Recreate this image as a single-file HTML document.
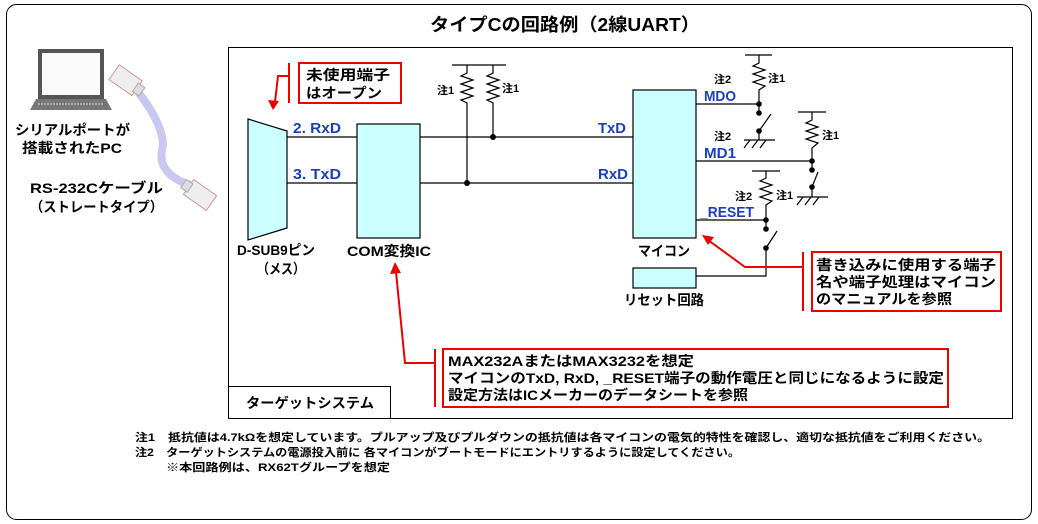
<!DOCTYPE html>
<html><head><meta charset="utf-8"><style>
body{margin:0;background:#fff}
svg{display:block}
text{font-family:"Liberation Sans","Noto Sans CJK JP",sans-serif;font-weight:bold}
</style></head><body>
<svg width="1038" height="524" viewBox="0 0 1038 524" xmlns="http://www.w3.org/2000/svg">
<rect x="6.5" y="4.5" width="1025" height="515" rx="10" fill="#fff" stroke="#000" stroke-width="1"/>
<text x="430" y="31" font-size="18" textLength="270" lengthAdjust="spacingAndGlyphs">タイプCの回路例（2線UART）</text>

<!-- PC -->
<rect x="38" y="49" width="66" height="50" fill="#555"/>
<rect x="42" y="53" width="58" height="42" fill="#fafafa"/>
<polygon points="36,99 106,99 112,110 30,110" fill="#777"/>
<line x1="38" y1="104" x2="104" y2="104" stroke="#aaa" stroke-width="2" stroke-dasharray="2,1"/>
<path d="M138,92 C160,120 165,140 162,150 C158,170 175,180 190,185" stroke="#c8c8f0" stroke-width="8" fill="none"/>
<g transform="rotate(35 127 80)"><rect x="112" y="72" width="28" height="18" fill="#eee" stroke="#c99" stroke-width="1"/><rect x="138" y="76" width="8" height="10" fill="#ddd" stroke="#aaa"/></g>
<g transform="rotate(35 200 195)"><rect x="186" y="186" width="28" height="18" fill="#eee" stroke="#c99" stroke-width="1"/><rect x="180" y="190" width="8" height="10" fill="#ddd" stroke="#aaa"/></g>
<text x="15" y="135" font-size="14" textLength="115" lengthAdjust="spacingAndGlyphs">シリアルポートが</text>
<text x="22" y="153" font-size="14" textLength="100" lengthAdjust="spacingAndGlyphs">搭載されたPC</text>
<text x="30" y="193" font-size="14" textLength="133" lengthAdjust="spacingAndGlyphs">RS-232Cケーブル</text>
<text x="30" y="212" font-size="14" textLength="133" lengthAdjust="spacingAndGlyphs">（ストレートタイプ）</text>

<!-- target system -->
<rect x="228.5" y="47.5" width="784" height="371" fill="none" stroke="#000"/>
<rect x="228.5" y="386.5" width="162" height="32" fill="none" stroke="#000"/>
<text x="246" y="408" font-size="14" textLength="128" lengthAdjust="spacingAndGlyphs">ターゲットシステム</text>

<g stroke="#000" stroke-width="1.2" fill="none">
<polygon points="248,119 287,131 287,228 248,240" fill="#ccffff"/>
<rect x="357" y="124" width="63" height="114" fill="#ccffff"/>
<rect x="633" y="90" width="63" height="148" fill="#ccffff"/>
<rect x="633" y="268" width="63" height="20" fill="#ccffff"/>
<line x1="287" y1="137" x2="357" y2="137"/>
<line x1="287" y1="183" x2="357" y2="183"/>
<line x1="420" y1="137" x2="633" y2="137"/>
<line x1="420" y1="183" x2="633" y2="183"/>
<line x1="452" y1="65" x2="506" y2="65"/>
<polyline points="467,65 467,73 461,76 473,80 461,84 473,88 461,92 473,96 461,100 467,103 467,183"/>
<polyline points="493,65 493,73 487,76 499,80 487,84 499,88 487,92 499,96 487,100 493,103 493,137"/>
<!-- MD0 -->
<line x1="696" y1="104" x2="759" y2="104"/>
<line x1="745" y1="55" x2="772" y2="55"/>
<polyline points="759,55 759,63 753,66 765,70 753,74 765,78 753,82 765,86 759,90 759,113"/>
<line x1="759" y1="131" x2="771" y2="114"/>
<line x1="759" y1="131" x2="759" y2="140"/>
<line x1="744" y1="140" x2="775" y2="140"/>
<path d="M750,140 l-6,8 M758,140 l-6,8 M766,140 l-6,8"/>
<!-- MD1 -->
<line x1="696" y1="161" x2="812" y2="161"/>
<line x1="798" y1="112" x2="826" y2="112"/>
<polyline points="812,112 812,120 806,123 818,127 806,131 818,135 806,139 818,143 812,148 812,170"/>
<line x1="812" y1="187" x2="818" y2="172"/>
<line x1="812" y1="187" x2="812" y2="197"/>
<line x1="797" y1="197" x2="828" y2="197"/>
<path d="M803,197 l-6,8 M811,197 l-6,8 M819,197 l-6,8"/>
<!-- RESET -->
<line x1="696" y1="220" x2="766" y2="220"/>
<line x1="752" y1="171" x2="780" y2="171"/>
<polyline points="766,171 766,178 760,181 772,185 760,189 772,193 760,197 772,201 766,205 766,229"/>
<line x1="766" y1="248" x2="777" y2="231"/>
<polyline points="766,248 766,276 696,276"/>
</g>
<g fill="#000">
<circle cx="467" cy="183" r="3"/><circle cx="493" cy="137" r="3"/>
<circle cx="759" cy="104" r="2.8"/><circle cx="759" cy="113" r="2.8"/><circle cx="759" cy="131" r="2.8"/>
<circle cx="812" cy="161" r="2.8"/><circle cx="812" cy="170" r="2.8"/><circle cx="812" cy="187" r="2.8"/>
<circle cx="766" cy="220" r="2.8"/><circle cx="766" cy="229" r="2.8"/><circle cx="766" cy="248" r="2.8"/>
</g>

<g fill="#1a3fbf" font-size="15">
<text x="293" y="133" textLength="48" lengthAdjust="spacingAndGlyphs">2. RxD</text>
<text x="293" y="179" textLength="48" lengthAdjust="spacingAndGlyphs">3. TxD</text>
<text x="598" y="133" textLength="28" lengthAdjust="spacingAndGlyphs">TxD</text>
<text x="598" y="179" textLength="30" lengthAdjust="spacingAndGlyphs">RxD</text>
<text x="704" y="101" textLength="32" lengthAdjust="spacingAndGlyphs">MDO</text>
<text x="704" y="158" textLength="32" lengthAdjust="spacingAndGlyphs">MD1</text>
<text x="700" y="217" textLength="54" lengthAdjust="spacingAndGlyphs">_RESET</text>
</g>
<g font-size="11">
<text x="437" y="94">注1</text><text x="502" y="92">注1</text>
<text x="714" y="83">注2</text><text x="768" y="82">注1</text>
<text x="714" y="140">注2</text><text x="822" y="139">注1</text>
<text x="735" y="200">注2</text><text x="776" y="199">注1</text>
</g>
<g font-size="14">
<text x="237" y="255" textLength="78" lengthAdjust="spacingAndGlyphs">D-SUB9ピン</text>
<text x="257" y="274" textLength="48" lengthAdjust="spacingAndGlyphs">（メス）</text>
<text x="347" y="256" textLength="84" lengthAdjust="spacingAndGlyphs">COM変換IC</text>
<text x="638" y="256" textLength="52" lengthAdjust="spacingAndGlyphs">マイコン</text>
<text x="624" y="305" textLength="80" lengthAdjust="spacingAndGlyphs">リセット回路</text>
</g>

<!-- red annotations -->
<g stroke="#e00" stroke-width="2" fill="none">
<rect x="299" y="63" width="102" height="40" fill="#fff"/>
<line x1="289" y1="63" x2="289" y2="103"/>
<polyline points="289,76 278,76 275,102"/>
<rect x="812" y="252" width="189" height="59" fill="#fff"/>
<line x1="803" y1="252" x2="803" y2="311"/>
<polyline points="803,267 745,267 708,240"/>
<rect x="443" y="349" width="505" height="58" fill="#fff"/>
<line x1="435" y1="349" x2="435" y2="407"/>
<polyline points="435,363 405,363 396,272"/>
</g>
<g fill="#e00">
<polygon points="273,110 268,100 279,101"/>
<polygon points="702,235 714,237 708,245"/>
<polygon points="395,262 390,274 401,273"/>
</g>
<g font-size="14">
<text x="306" y="80" textLength="84" lengthAdjust="spacingAndGlyphs">未使用端子</text>
<text x="306" y="98" textLength="76" lengthAdjust="spacingAndGlyphs">はオープン</text>
<text x="816" y="270" textLength="180" lengthAdjust="spacingAndGlyphs">書き込みに使用する端子</text>
<text x="816" y="287" textLength="180" lengthAdjust="spacingAndGlyphs">名や端子処理はマイコン</text>
<text x="816" y="304" textLength="136" lengthAdjust="spacingAndGlyphs">のマニュアルを参照</text>
<text x="448" y="366" textLength="246" lengthAdjust="spacingAndGlyphs">MAX232AまたはMAX3232を想定</text>
<text x="448" y="383" textLength="496" lengthAdjust="spacingAndGlyphs">マイコンのTxD, RxD, _RESET端子の動作電圧と同じになるように設定</text>
<text x="448" y="400" textLength="300" lengthAdjust="spacingAndGlyphs">設定方法はICメーカーのデータシートを参照</text>
</g>
<g font-size="11">
<text x="135" y="441" textLength="855" lengthAdjust="spacingAndGlyphs">注1　抵抗値は4.7kΩを想定しています。プルアップ及びプルダウンの抵抗値は各マイコンの電気的特性を確認し、適切な抵抗値をご利用ください。</text>
<text x="135" y="456" textLength="605" lengthAdjust="spacingAndGlyphs">注2　ターゲットシステムの電源投入前に 各マイコンがブートモードにエントリするように設定してください。</text>
<text x="166" y="471" textLength="224" lengthAdjust="spacingAndGlyphs">※本回路例は、RX62Tグループを想定</text>
</g>
</svg>
</body></html>
